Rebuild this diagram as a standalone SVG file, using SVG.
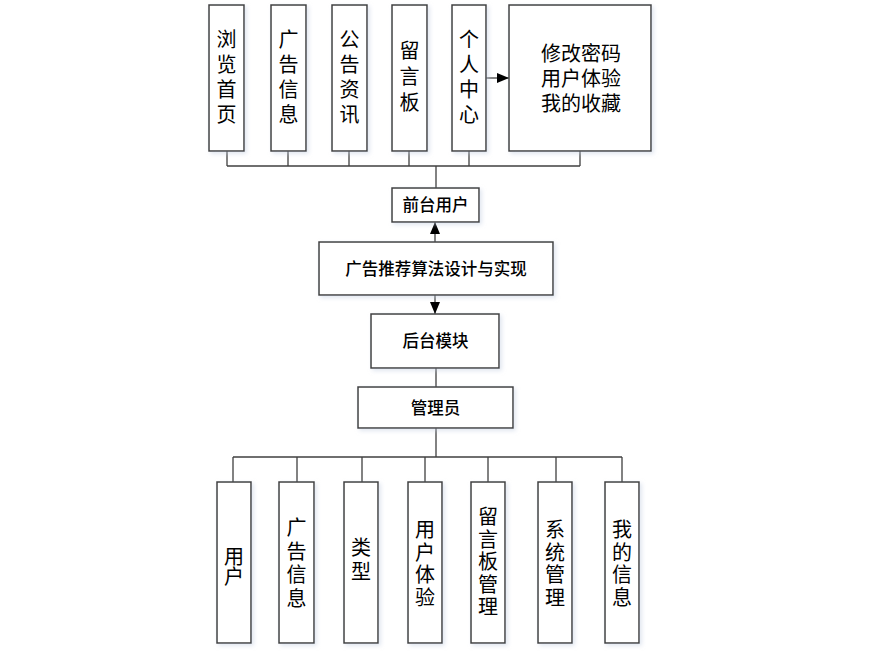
<svg xmlns="http://www.w3.org/2000/svg" width="880" height="653" viewBox="0 0 880 653">
<defs>
<style>
.box{fill:#ffffff;stroke:#404040;stroke-width:1.5;filter:url(#sh)}
.ln{fill:none;stroke:#404040;stroke-width:1.3}
.t{font-family:"Noto Sans CJK SC","Microsoft YaHei",sans-serif;font-size:20px;fill:#000;text-anchor:middle}
.m{font-family:"Noto Sans CJK SC","Microsoft YaHei",sans-serif;font-size:16.5px;fill:#000;text-anchor:middle;font-weight:500}
</style>
<filter id="sh" x="-20%" y="-20%" width="140%" height="140%">
<feDropShadow dx="2" dy="2" stdDeviation="2" flood-color="#c0cce0" flood-opacity="0.5"/>
</filter>
<marker id="ah" viewBox="0 0 12 10" refX="12" refY="5" markerWidth="12" markerHeight="10" markerUnits="userSpaceOnUse" orient="auto">
<path d="M0,0 L12,5 L0,10 Z" fill="#000"/>
</marker>
</defs>

<g id="connectors">
<path class="ln" d="M227,151V166M288,151V166M349,151V166M409,151V166M469,151V166M580,151V166M227,166H580M436,166V188"/>
<line class="ln" x1="486" y1="78" x2="509" y2="78" marker-end="url(#ah)"/>
<line class="ln" x1="435" y1="242" x2="435" y2="222" marker-end="url(#ah)"/>
<line class="ln" x1="435" y1="295" x2="435" y2="314" marker-end="url(#ah)"/>
<path class="ln" d="M436,368V387M436,428V457M233,457H622M233,457V482M297,457V482M362,457V482M425,457V482M488,457V482M556,457V482M622,457V482"/>
</g>

<g id="n-liulan"><rect class="box" x="209" y="5" width="35" height="146"/>
<text class="t"><tspan x="226.5" y="46.5">浏</tspan><tspan x="226.5" y="71.5">览</tspan><tspan x="226.5" y="96.5">首</tspan><tspan x="226.5" y="121.5">页</tspan></text></g>
<g id="n-guanggao"><rect class="box" x="271" y="5" width="35" height="146"/>
<text class="t"><tspan x="288.5" y="46.5">广</tspan><tspan x="288.5" y="71.5">告</tspan><tspan x="288.5" y="96.5">信</tspan><tspan x="288.5" y="121.5">息</tspan></text></g>
<g id="n-gonggao"><rect class="box" x="332" y="5" width="35" height="146"/>
<text class="t"><tspan x="349.5" y="46.5">公</tspan><tspan x="349.5" y="71.5">告</tspan><tspan x="349.5" y="96.5">资</tspan><tspan x="349.5" y="121.5">讯</tspan></text></g>
<g id="n-liuyan"><rect class="box" x="392" y="5" width="35" height="146"/>
<text class="t"><tspan x="409.5" y="58">留</tspan><tspan x="409.5" y="84">言</tspan><tspan x="409.5" y="110">板</tspan></text></g>
<g id="n-geren"><rect class="box" x="452" y="5" width="34" height="146"/>
<text class="t"><tspan x="469" y="46.5">个</tspan><tspan x="469" y="71.5">人</tspan><tspan x="469" y="96.5">中</tspan><tspan x="469" y="121.5">心</tspan></text></g>
<g id="n-geren-sub"><rect class="box" x="509" y="5" width="142" height="146"/>
<text class="t"><tspan x="581" y="61">修改密码</tspan><tspan x="581" y="86">用户体验</tspan><tspan x="581" y="111">我的收藏</tspan></text></g>

<g id="n-qiantai"><rect class="box" x="392" y="188" width="87" height="34"/>
<text class="m" x="435.5" y="211">前台用户</text></g>
<g id="n-main"><rect class="box" x="319" y="242" width="234" height="53"/>
<text class="m" x="436" y="274.5">广告推荐算法设计与实现</text></g>
<g id="n-houtai"><rect class="box" x="371" y="314" width="128" height="54"/>
<text class="m" x="435.5" y="347">后台模块</text></g>
<g id="n-admin"><rect class="box" x="358" y="387" width="155" height="41"/>
<text class="m" x="435.5" y="414">管理员</text></g>

<g id="b-yonghu"><rect class="box" x="217" y="482" width="34" height="161"/>
<text class="t"><tspan x="234" y="564">用</tspan><tspan x="234" y="584">户</tspan></text></g>
<g id="b-guanggao"><rect class="box" x="279" y="482" width="35" height="161"/>
<text class="t"><tspan x="296.5" y="535">广</tspan><tspan x="296.5" y="558.5">告</tspan><tspan x="296.5" y="582">信</tspan><tspan x="296.5" y="605.5">息</tspan></text></g>
<g id="b-leixing"><rect class="box" x="344" y="482" width="34" height="161"/>
<text class="t"><tspan x="361" y="555">类</tspan><tspan x="361" y="579">型</tspan></text></g>
<g id="b-tiyan"><rect class="box" x="408" y="482" width="34" height="161"/>
<text class="t"><tspan x="425" y="537">用</tspan><tspan x="425" y="559.5">户</tspan><tspan x="425" y="582">体</tspan><tspan x="425" y="604.5">验</tspan></text></g>
<g id="b-liuyan"><rect class="box" x="471" y="482" width="34" height="161"/>
<text class="t"><tspan x="488" y="524">留</tspan><tspan x="488" y="546.5">言</tspan><tspan x="488" y="569">板</tspan><tspan x="488" y="591.5">管</tspan><tspan x="488" y="614">理</tspan></text></g>
<g id="b-xitong"><rect class="box" x="538" y="482" width="34" height="161"/>
<text class="t"><tspan x="555" y="537">系</tspan><tspan x="555" y="559.5">统</tspan><tspan x="555" y="582">管</tspan><tspan x="555" y="604.5">理</tspan></text></g>
<g id="b-wode"><rect class="box" x="605" y="482" width="34" height="161"/>
<text class="t"><tspan x="622" y="537">我</tspan><tspan x="622" y="559.5">的</tspan><tspan x="622" y="582">信</tspan><tspan x="622" y="604.5">息</tspan></text></g>
</svg>
